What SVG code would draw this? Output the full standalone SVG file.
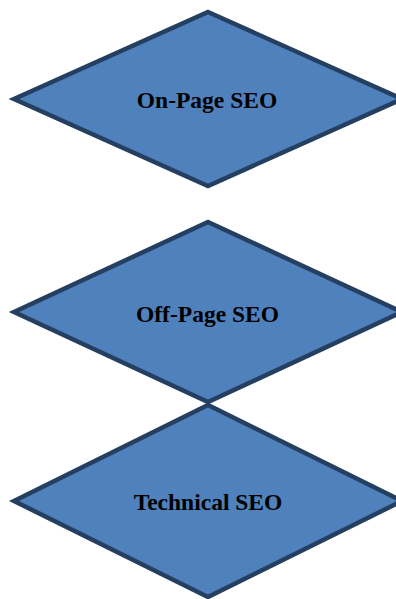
<svg xmlns="http://www.w3.org/2000/svg" width="396" height="599" viewBox="0 0 396 599">
  <style>
    .shape { fill: #4f81bd; stroke: #243f60; stroke-width: 4.5; stroke-linejoin: miter; }
    .label { font-family: "Liberation Serif", "Times New Roman", serif; font-weight: bold; font-size: 23.5px; fill: #000; text-anchor: middle; }
  </style>
  <rect width="396" height="599" fill="#ffffff"/>
  <g id="connectors"></g>
  <g id="on-page-seo">
    <polygon class="shape" points="208,12 402,99 208,186 14,99"/>
    <text class="label" x="207" y="107.5">On-Page SEO</text>
  </g>
  <g id="off-page-seo">
    <polygon class="shape" points="208,222 402,312 208,402 14,312"/>
    <text class="label" x="207.5" y="321.5">Off-Page SEO</text>
  </g>
  <g id="technical-seo">
    <polygon class="shape" points="208,405 402,501 208,597 14,501"/>
    <text class="label" x="208" y="510">Technical SEO</text>
  </g>
</svg>
